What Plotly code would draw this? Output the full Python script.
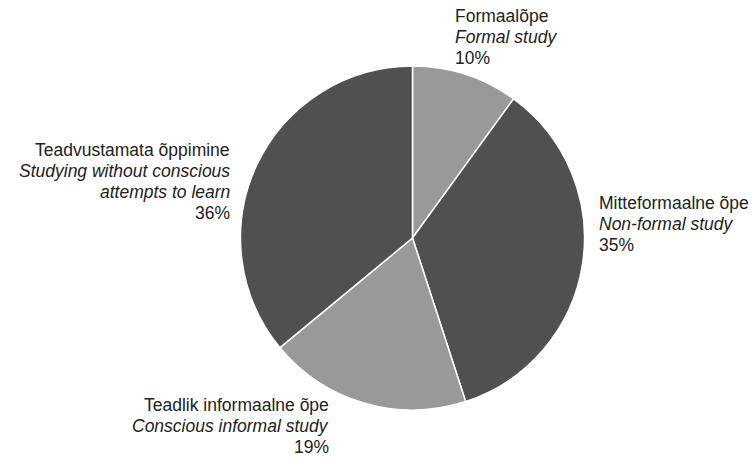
import plotly.graph_objects as go

# Learning forms (Estonian / English) and their shares, clockwise from 12 o'clock
labels_et = ["Formaalõpe", "Mitteformaalne õpe", "Teadlik informaalne õpe", "Teadvustamata õppimine"]
labels_en = [["Formal study"], ["Non-formal study"], ["Conscious informal study"],
             ["Studying without conscious", "attempts to learn"]]
shares = [10, 35, 19, 36]
colors = ["#999999", "#505050", "#999999", "#505050"]

W, H = 752, 457
cx, cy, r = 412.5, 238, 172

fig = go.Figure(go.Pie(
    labels=labels_et,
    values=shares,
    sort=False,
    direction="clockwise",
    rotation=0,
    marker=dict(colors=colors, line=dict(color="white", width=1.5)),
    textinfo="none",
    hoverinfo="label+percent",
    showlegend=False,
    domain=dict(x=[(cx - r) / W, (cx + r) / W], y=[(H - cy - r) / H, (H - cy + r) / H]),
))

# label blocks: anchor x, first line centre y (pixels), alignment; lines 21 px apart
label_pos = [
    (453, 16, "left"),
    (597, 203, "left"),
    (331, 405, "right"),
    (232, 150, "right"),
]
line_gap = 21
font = dict(family="Liberation Sans, Arial, sans-serif", size=17.5, color="#222222")
for et, en, v, (px, py, al) in zip(labels_et, labels_en, shares, label_pos):
    lines = [et] + [f"<i>{s}</i>" for s in en] + [f"{v}%"]
    for i, line in enumerate(lines):
        fig.add_annotation(
            x=px / W, y=(H - (py + i * line_gap)) / H, xref="paper", yref="paper",
            xanchor=al, yanchor="middle", align=al, showarrow=False,
            text=line, font=font,
        )

fig.update_layout(
    width=W, height=H,
    margin=dict(l=0, r=0, t=0, b=0),
    paper_bgcolor="white", plot_bgcolor="white",
)

fig.write_html("out.html")
